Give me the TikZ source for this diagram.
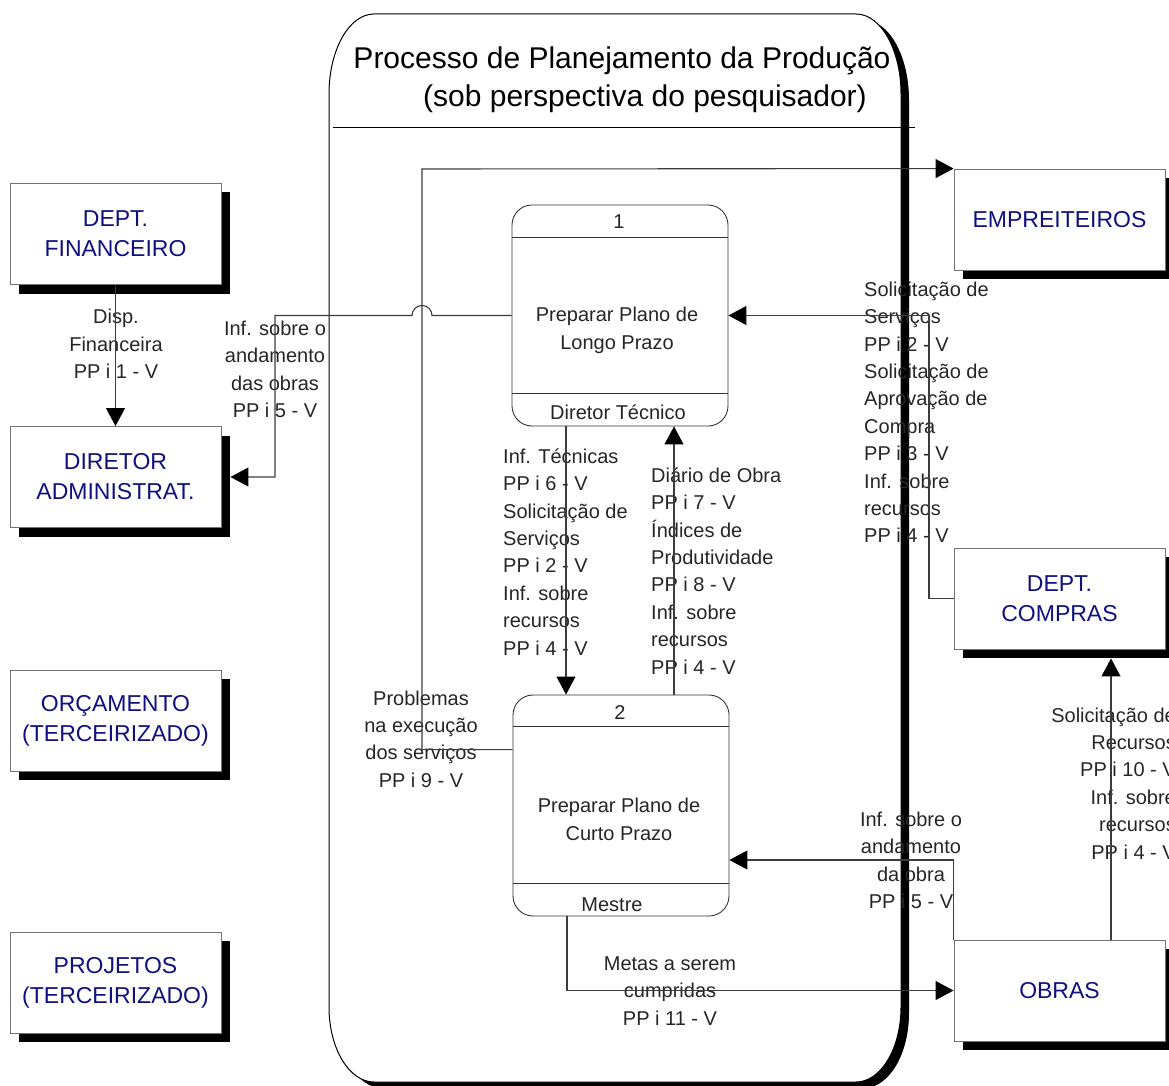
\documentclass[tikz,border=0pt]{standalone}
\usepackage{fontspec}
\setmainfont{Liberation Sans}
\usetikzlibrary{arrows.meta,shadows,calc}
\definecolor{navy}{RGB}{16,16,128}
\definecolor{wire}{RGB}{60,60,60}

\begin{document}
\begin{tikzpicture}[x=1pt,y=-1pt,
  entity/.style={draw=black!55, line width=0.9pt, fill=white,
    minimum width=211pt, minimum height=101pt, inner sep=0pt, align=center,
    text=navy, font=\fontsize{23}{30}\selectfont,
    drop shadow={shadow xshift=9pt, shadow yshift=-9pt, fill=black, opacity=1}},
  proc/.style={draw=black!80, line width=0.9pt, rounded corners=20pt,
    minimum width=216pt, minimum height=221pt, inner sep=0pt},
  ptext/.style={font=\fontsize{20}{28}\selectfont, align=center, inner sep=0pt, text=black!85},
  flow/.style={font=\fontsize{20}{27.4}\selectfont, inner sep=0pt, text=black!85,
    execute at begin node=\strut, execute at end node=\strut},
  conn/.style={draw=wire, line width=1.1pt},
  arr/.style={conn, -{Triangle[length=18pt,width=19pt,black]}},
  divider/.style={draw=black!80, line width=0.9pt},
]
\useasboundingbox (0,0) rectangle (1169,1086);

% process boundary: shadow, then white body with thin outline
\fill[black] (382,20) -- (864,20)
  arc[start angle=-90,end angle=0,x radius=45,y radius=80] -- (909,1013)
  arc[start angle=0,end angle=90,x radius=45,y radius=75] -- (382,1088)
  arc[start angle=90,end angle=180,x radius=45,y radius=75] -- (337,100)
  arc[start angle=180,end angle=270,x radius=45,y radius=80] -- cycle;
\draw[black, line width=1pt, fill=white] (374,14) -- (856,14)
  arc[start angle=-90,end angle=0,x radius=45,y radius=80] -- (901,1007)
  arc[start angle=0,end angle=90,x radius=45,y radius=75] -- (374,1082)
  arc[start angle=90,end angle=180,x radius=45,y radius=75] -- (329,94)
  arc[start angle=180,end angle=270,x radius=45,y radius=80] -- cycle;

% title
\node[font=\fontsize{30}{38}\selectfont, inner sep=0pt] (title1) at (622,60.5) {Processo de Planejamento da Produção};
\node[font=\fontsize{30}{38}\selectfont, inner sep=0pt] (title2) at (645,98.5) {(sob perspectiva do pesquisador)};
\coordinate (sepL) at (333,127);
\coordinate (sepR) at (915,127);
\draw[black, line width=0.9pt] (sepL) -- (sepR);

% external entities
\node[entity] (fin)   at (115.5,234)   {DEPT.\\FINANCEIRO};
\node[entity] (dir)   at (115.5,477)   {DIRETOR\\ADMINISTRAT.};
\node[entity] (orc)   at (115.5,720.5) {ORÇAMENTO\\(TERCEIRIZADO)};
\node[entity] (proj)  at (115.5,982.5) {PROJETOS\\(TERCEIRIZADO)};
\node[entity] (emp)   at (1059.5,219.5) {EMPREITEIROS};
\node[entity] (comp)  at (1059.5,598.5) {DEPT.\\COMPRAS};
\node[entity] (obras) at (1059.5,990.5) {OBRAS};

% processes
\node[proc] (p1) at (620,315.5) {};
\draw[divider] ([yshift=-33pt]p1.north west) -- ([yshift=-33pt]p1.north east);
\draw[divider] ([yshift=33pt]p1.south west) -- ([yshift=33pt]p1.south east);
\node[ptext] (p1id)   at (619,222) {1};
\node[ptext] (p1name) at (617,330) {Preparar Plano de\\Longo Prazo};
\node[ptext] (p1who)  at (618,412) {Diretor Técnico};

\node[proc] (p2) at (621,805.5) {};
\draw[divider] ([yshift=-32pt]p2.north west) -- ([yshift=-32pt]p2.north east);
\draw[divider] ([yshift=33pt]p2.south west) -- ([yshift=33pt]p2.south east);
\node[ptext] (p2id)   at (620,713) {2};
\node[ptext] (p2name) at (619,819) {Preparar Plano de\\Curto Prazo};
\node[ptext] (p2who)  at (612,905) {Mestre};

% flow labels
\node[flow, align=center] (lfin) at (116,348) {Disp.\\Financeira\\PP i 1 - V};
\node[flow, align=center] (land) at (275,373.25) {Inf. sobre o\\andamento\\das obras\\PP i 5 - V};
\node[flow, align=center] (lprob) at (421,743) {Problemas\\na execução\\dos serviços\\PP i 9 - V};
\node[flow, align=left, anchor=west] (ldown) at (503,556) {Inf. Técnicas\\PP i 6 - V\\Solicitação de\\Serviços\\PP i 2 - V\\Inf. sobre\\recursos\\PP i 4 - V};
\node[flow, align=left, anchor=west] (lup) at (651,575) {Diário de Obra\\PP i 7 - V\\Índices de\\Produtividade\\PP i 8 - V\\Inf. sobre\\recursos\\PP i 4 - V};
\node[flow, align=left, anchor=west] (lcomp) at (864,416.5) {Solicitação de\\Serviços\\PP i 2 - V\\Solicitação de\\Aprovação de\\Compra\\PP i 3 - V\\Inf. sobre\\recursos\\PP i 4 - V};
\node[flow, align=center] (lobra) at (911,864.5) {Inf. sobre o\\andamento\\da obra\\PP i 5 - V};
\node[flow, align=right, anchor=east] (lrec) at (1176,787.5) {Solicitação de\\Recursos\\PP i 10 - V\\Inf. sobre\\recursos\\PP i 4 - V};
\node[flow, align=center] (lmeta) at (670,995) {Metas a serem\\cumpridas\\PP i 11 - V};

% data flows
\draw[arr] (fin.south) -- (dir.north);
\draw[arr] (p1.west) -- (432,315.5) arc[start angle=0,end angle=-180,radius=10]
  -- (275,315.5) |- ($(dir.east)+(9,0)$);
\draw[arr] ([yshift=-55pt]p2.north west) -| (422,169) -- (emp.north west);
\draw[arr] ([xshift=-54pt]p1.south) -- ([xshift=-55pt]p2.north);
\draw[arr] ([xshift=53pt]p2.north) -- ([xshift=54pt]p1.south);
\draw[arr] (comp.west) -- (929,598.5) |- (p1.east);
\draw[arr] (obras.north west) |- ([yshift=-54.5pt]p2.east);
\draw[arr] ([xshift=51.5pt]obras.north) -- ([xshift=51.5pt,yshift=-9pt]comp.south);
\draw[arr] ([xshift=-54pt]p2.south) |- (obras.west);
\end{tikzpicture}
\end{document}
